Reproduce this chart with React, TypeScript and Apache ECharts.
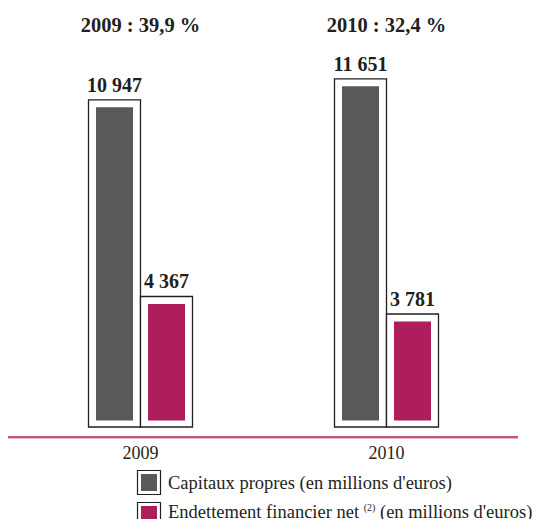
import React, { useEffect, useRef } from "react";
import * as echarts from "echarts";

const categories = ["2009", "2010"];
const ratioLabels = ["2009 : 39,9 %", "2010 : 32,4 %"];
const capitauxPropres = [10947, 11651];
const endettement = [4367, 3781];
const seriesNames = [
  "Capitaux propres (en millions d'euros)",
  "Endettement financier net (2) (en millions d'euros)",
];
const colors = ["#58595B", "#AE1D5C"];

const FONT = "'Liberation Serif', 'DejaVu Serif', serif";

function fmt(v: number): string {
  return String(v).replace(/\B(?=(\d{3})+(?!\d))/g, " ");
}

function makeRender(side: number, color: string) {
  return (params: any, api: any) => {
    const cat = api.value(0);
    const val = api.value(1);
    const top = api.coord([cat, val]);
    const base = api.coord([cat, 0]);
    const bw = 52;
    const x0 = side === 0 ? top[0] - bw : top[0];
    const h = base[1] - top[1];
    const inset = 7;
    return {
      type: "group",
      children: [
        {
          type: "rect",
          shape: { x: x0, y: top[1], width: bw, height: h },
          style: { fill: "#ffffff", stroke: "#231F20", lineWidth: 1.3 },
        },
        {
          type: "rect",
          shape: {
            x: x0 + inset + 0.5,
            y: top[1] + inset + 0.5,
            width: bw - 2 * inset - 1,
            height: h - 2 * inset,
          },
          style: { fill: color },
        },
        {
          type: "text",
          style: {
            x: x0 + bw / 2,
            y: top[1] - 5,
            text: fmt(val),
            fill: "#231F20",
            font: `bold 20px ${FONT}`,
            textAlign: "center",
            textVerticalAlign: "bottom",
          },
        },
      ],
    };
  };
}

export default function App() {
  const ref = useRef<HTMLDivElement>(null);
  useEffect(() => {
    if (!ref.current) return;
    const chart = echarts.init(ref.current, undefined, { renderer: "svg" });
    chart.setOption({
      animation: false,
      backgroundColor: "#ffffff",
      textStyle: { fontFamily: FONT },
      grid: { left: 17.5, width: 492, top: 60, bottom: 90 },
      xAxis: [
        {
          type: "category",
          data: categories,
          position: "bottom",
          axisLine: { show: false },
          axisTick: { show: false },
          axisLabel: { color: "#231F20", fontSize: 18, margin: 7, fontFamily: FONT },
        },
        {
          type: "category",
          data: ratioLabels,
          position: "top",
          axisLine: { show: false },
          axisTick: { show: false },
          axisLabel: {
            color: "#231F20",
            fontSize: 20.5,
            fontWeight: "bold",
            margin: 25,
            fontFamily: FONT,
          },
        },
      ],
      yAxis: {
        type: "value",
        min: -335,
        max: 12280,
        show: false,
        splitLine: { show: false },
      },
      series: [
        {
          type: "custom",
          name: seriesNames[0],
          renderItem: makeRender(0, colors[0]),
          data: capitauxPropres.map((v, i) => [i, v]),
          encode: { x: 0, y: 1 },
        },
        {
          type: "custom",
          name: seriesNames[1],
          renderItem: makeRender(1, colors[1]),
          data: endettement.map((v, i) => [i, v]),
          encode: { x: 0, y: 1 },
        },
      ],
      graphic: [
        {
          type: "line",
          shape: { x1: 7, y1: 437, x2: 518, y2: 437 },
          style: { stroke: "#A21F59", lineWidth: 1.6 },
        },
        {
          type: "line",
          shape: { x1: 7, y1: 438.5, x2: 518, y2: 438.5 },
          style: { stroke: "#EBB3CA", lineWidth: 1 },
        },
        {
          type: "rect",
          shape: { x: 137.5, y: 470.5, width: 23, height: 24 },
          style: { fill: "#ffffff", stroke: "#231F20", lineWidth: 1.2 },
        },
        {
          type: "rect",
          shape: { x: 141, y: 474, width: 16, height: 17 },
          style: { fill: colors[0] },
        },
        {
          type: "text",
          style: {
            x: 168,
            y: 482.5,
            text: "Capitaux propres (en millions d'euros)",
            fill: "#231F20",
            font: `18.5px ${FONT}`,
            textVerticalAlign: "middle",
          },
        },
        {
          type: "rect",
          shape: { x: 137.5, y: 502.5, width: 23, height: 24 },
          style: { fill: "#ffffff", stroke: "#231F20", lineWidth: 1.2 },
        },
        {
          type: "rect",
          shape: { x: 141, y: 506, width: 16, height: 17 },
          style: { fill: colors[1] },
        },
        {
          type: "text",
          style: {
            x: 168,
            y: 511.5,
            text: "{t|Endettement financier net }{s|(2)}{t| (en millions d'euros)}",
            rich: {
              t: { fontSize: 18.5, fontFamily: FONT, fill: "#231F20", color: "#231F20" },
              s: {
                fontSize: 10,
                fontFamily: FONT,
                fill: "#231F20",
                color: "#231F20",
                verticalAlign: "top",
                padding: [0, 0, 8, 0],
              },
            },
            textVerticalAlign: "middle",
          },
        },
      ],
    });
    return () => chart.dispose();
  }, []);
  return <div ref={ref} style={{ width: 541, height: 527, margin: -8 }} />;
}
